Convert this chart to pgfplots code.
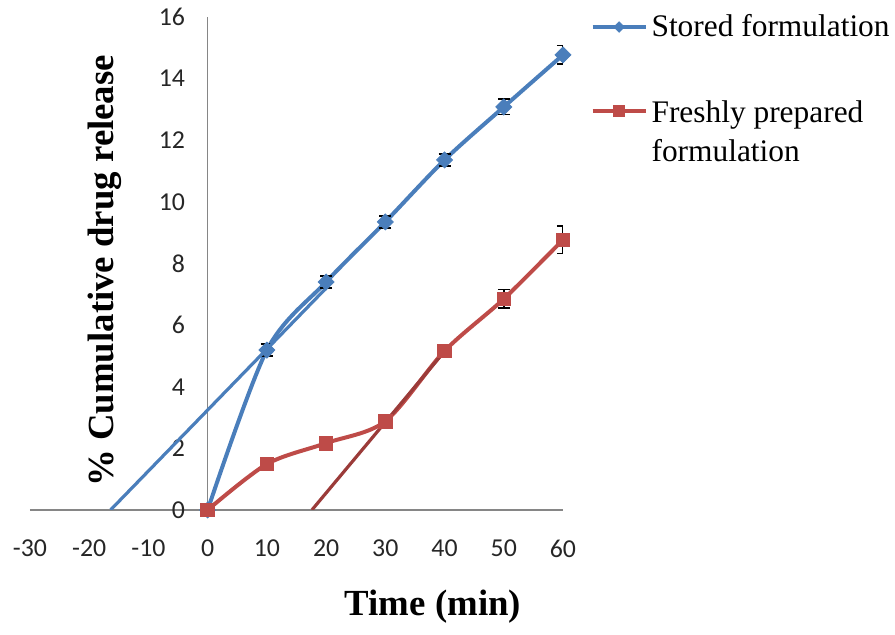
\documentclass[border=0pt]{standalone}
\usepackage{fontspec}
\setmainfont{Liberation Serif}
\newfontfamily\carlito{Carlito}
\usepackage{pgfplots}
\pgfplotsset{compat=1.18}
\definecolor{sblue}{HTML}{4A7EBB}
\definecolor{fred}{HTML}{BE4B48}
\definecolor{tred}{HTML}{9B3B39}
\definecolor{axgray}{HTML}{868686}
\begin{document}
\begin{tikzpicture}
\useasboundingbox (0,0) rectangle (447.5pt,317.5pt);
\begin{axis}[
  at={(15pt,62.5pt)}, anchor=south west,
  scale only axis, width=266.5pt, height=246.5pt,
  xmin=-30, xmax=60, ymin=0, ymax=16,
  axis x line=bottom, axis y line=left,
  x axis line style={-, axgray, line width=0.6pt},
  y axis line style={draw=none},
  xtick={-30,-20,-10,0,10,20,30,40,50,60},
  xticklabels={-30,-20,-10,0,10,20,30,40,50,60},
  ytick={0,2,4,6,8,10,12,14,16},
  yticklabels={0,2,4,6,8,10,12,14,16},
  extra x ticks={0}, extra x tick labels={},
  extra x tick style={grid=major, major grid style={axgray, line width=0.6pt}},
  major tick length=0pt,
  ticklabel style={font=\fontsize{12.9}{15}\selectfont\carlito, text=black!85},
  xticklabel style={yshift=-11.5pt},
  yticklabel style={xshift=81pt},
  xlabel={Time (min)},
  ylabel={\% Cumulative drug release},
  xlabel style={at={(axis description cs:0.756,-0.197)}, anchor=center, font=\fontsize{18.4}{22}\selectfont\bfseries},
  ylabel style={at={(axis description cs:0.141,0.485)}, anchor=center, rotate=0, font=\fontsize{18.4}{22}\selectfont\bfseries},
  legend style={at={(axis description cs:1.051,1.014)}, anchor=north west, draw=none, fill=none, inner sep=0pt,
    font=\fontsize{15.7}{19.4}\selectfont, row sep=24pt},
  legend cell align=left,
  legend image code/.code={\draw[mark repeat=2,mark phase=2,#1] plot coordinates {(0pt,0pt) (13.25pt,0pt) (26.5pt,0pt)};},
]
\addplot[sblue, line width=2pt, smooth, mark=diamond*, mark size=4pt,
  mark options={solid, xscale=1.33, line width=0.4pt},
  legend image post style={mark size=2.6pt},
  error bars/.cd, y dir=both, y explicit,
  error bar style={black, line width=0.8pt},
  error mark options={rotate=90, mark size=3pt, black, line width=0.8pt}]
coordinates {(0,0) +- (0,0) (10,5.19) +- (0,0.2) (20,7.4) +- (0,0.2) (30,9.35) +- (0,0.2)
  (40,11.36) +- (0,0.2) (50,13.08) +- (0,0.25) (60,14.77) +- (0,0.3)};
\addlegendentry{Stored formulation}
\addplot[fred, line width=2pt, smooth, mark=square*, mark size=3.4pt,
  mark options={solid, line width=0.4pt},
  legend image post style={mark size=2.8pt},
  error bars/.cd, y dir=both, y explicit,
  error bar style={black, line width=0.8pt},
  error mark options={rotate=90, mark size=3pt, black, line width=0.8pt}]
coordinates {(0,0) +- (0,0) (10,1.49) +- (0,0.05) (20,2.17) +- (0,0.05) (30,2.88) +- (0,0.12)
  (40,5.16) +- (0,0.2) (50,6.85) +- (0,0.3) (60,8.77) +- (0,0.45)};
\addlegendentry{\vtop{\hbox{\strut Freshly prepared}\hbox{\strut formulation}}}
\addplot[sblue, line width=1.6pt, forget plot] coordinates {(-16.4,0) (20,7.2)};
\addplot[tred, line width=1.6pt, forget plot] coordinates {(17.6,0) (40,5.15)};
\end{axis}
\end{tikzpicture}
\end{document}
